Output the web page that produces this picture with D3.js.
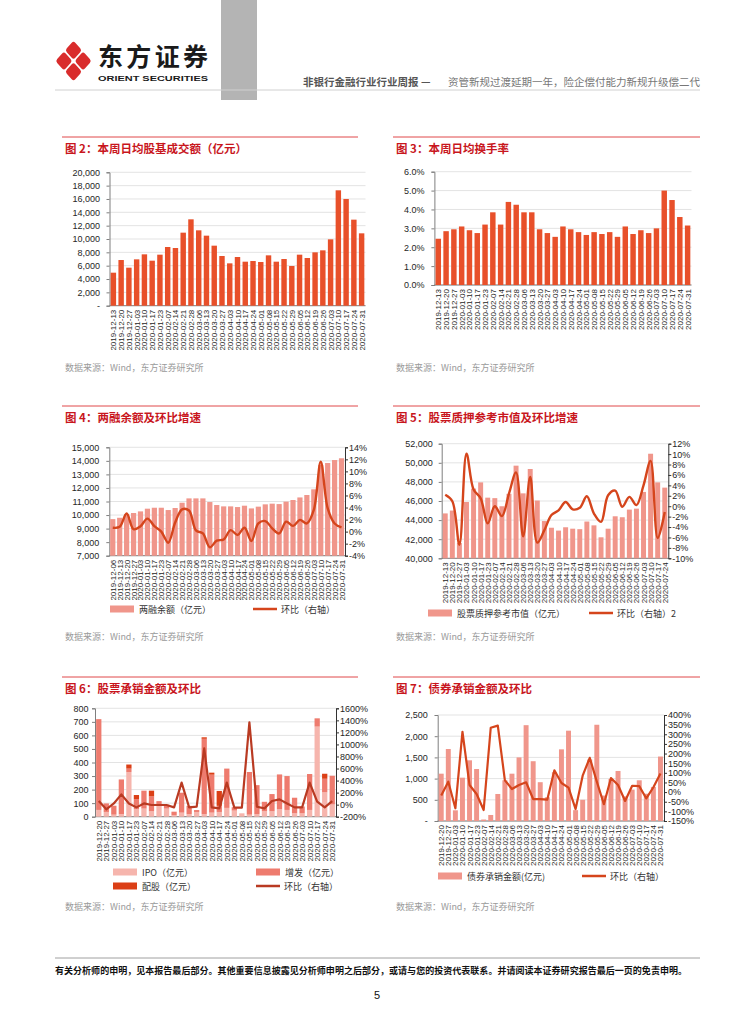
<!DOCTYPE html>
<html>
<head>
<meta charset="utf-8">
<script src="https://cdn.jsdelivr.net/npm/d3@7"></script>
<style>body{margin:0;background:#fff}</style>
</head>
<body>
<script>
// week labels
var weeks = ["2019-12-13","2019-12-20","2019-12-27","2020-01-03","2020-01-10","2020-01-17","2020-01-23","2020-02-07","2020-02-14","2020-02-21","2020-02-28","2020-03-06","2020-03-13","2020-03-20","2020-03-27","2020-04-03","2020-04-10","2020-04-17","2020-04-24","2020-05-01","2020-05-08","2020-05-15","2020-05-22","2020-05-29","2020-06-05","2020-06-12","2020-06-19","2020-06-26","2020-07-03","2020-07-10","2020-07-17","2020-07-24","2020-07-31"];
var dates2 = weeks;
var dates3 = weeks;
var dates4 = ["2019-12-06"].concat(weeks);
var dates5 = weeks.slice(0, 32);
var dates6 = weeks.slice(1);
var dates7 = weeks.slice(1);

// fig 2 daily turnover (亿元)
var turnover = [4950,6850,5700,6950,7700,6750,7650,8800,8650,10950,12950,11300,10500,9000,7450,6350,7300,6600,6700,6550,7550,6600,7000,5950,7650,7150,8000,8300,9950,17300,16000,12900,10850];
// fig 3 turnover rate (%)
var turnRate = [2.45,2.85,2.95,3.1,2.9,2.75,3.2,3.85,3.2,4.4,4.25,3.85,3.85,2.95,2.75,2.55,3.1,2.95,2.8,2.65,2.8,2.7,2.8,2.55,3.1,2.7,2.9,2.75,3.0,5.0,4.5,3.6,3.15];
// fig 4 margin balance and wow (%)
var margin = [9700,9800,10070,10150,10270,10470,10540,10540,10370,10520,10910,11230,11230,11230,10960,10740,10640,10640,10590,10690,10490,10620,10790,10840,10810,10990,11110,11300,11480,11900,13700,13840,14060,14190];
var marginChg = [0.65,0.8,3.0,0.4,0.9,2.15,0.9,0.0,-1.85,1.5,3.7,3.5,0.2,-0.3,-2.6,-1.5,-1.3,0.25,-0.55,0.65,-1.55,1.35,1.75,0.55,-0.3,1.65,0.95,1.95,1.35,3.6,11.6,3.9,1.35,0.7];
// fig 5 pledge market value and wow (%)
var pledge = [44700,45000,41600,45900,47300,47950,46350,46300,45450,46750,49700,46800,49350,46050,43900,43200,42900,43250,43100,43050,43850,43450,42200,43100,44400,44300,45100,45200,46950,50950,47950,47400];
var pledgeChg = [2.2,0.95,-7.4,10.1,3.2,1.5,-3.3,0.0,-1.9,2.4,6.5,-5.8,5.6,-7.0,-4.6,-1.7,-0.8,0.8,-0.6,-0.3,1.9,-1.4,-3.0,2.1,3.0,-0.1,1.8,0.2,4.0,8.7,-6.1,-1.1];
// fig 6 equity underwriting
var ipo = [50,35,15,20,330,55,60,40,80,60,10,30,20,35,20,30,35,65,45,25,15,20,40,40,55,50,25,25,50,665,180,90];
var seo = [670,63,66,255,25,75,132,110,35,28,27,147,60,14,555,280,45,290,25,0,315,213,70,127,257,250,115,50,265,61,100,212];
var rights = [0,0,0,0,30,30,0,42,0,0,0,0,0,0,11,15,110,0,0,0,0,0,0,0,0,0,0,0,0,0,37,0];
var equityChg = [60,-78,20,171,20,-45,20,-6,-6,-6,-45,365,-45,-34,935,-45,-62,365,-50,-50,1368,-34,-62,60,88,20,-45,-45,365,49,-45,60];
// fig 7 bond underwriting
var bonds = [1116,1698,252,1022,1431,1226,35,142,637,960,1116,1500,2260,1410,915,560,1150,1690,2130,256,500,1450,2270,600,990,1180,580,740,960,643,804,1520];
var bondChg = [-18,54,-84,313,37,-10,-93,334,345,61,16,37,51,-36,-36,-39,113,47,23,-88,85,178,54,-63,73,37,-46,33,31,-33,25,96];

var FONT = "'Liberation Sans','Noto Sans CJK SC',sans-serif";
var CJK = "'Noto Sans CJK SC','Liberation Sans',sans-serif";
var RED = "#e8502a", SALMON = "#f0968b", LINE = "#d5451c";

var svg = d3.select("body").append("svg").attr("width", 754).attr("height", 1024)
  .style("font-family", FONT);

//header
svg.append("rect").attr("x", 221).attr("y", 0).attr("width", 36).attr("height", 100).attr("fill", "#b4b4b4");
svg.append("line").attr("x1", 55).attr("x2", 700).attr("y1", 90).attr("y2", 90).attr("stroke", "#d0d0d0");

var logo = svg.append("g").attr("transform", "translate(73.5,61) scale(1,1.12)");
var pieces = [[0,-9.6],[-9.6,0],[9.6,0],[0,9.6]];
logo.selectAll("rect").data(pieces).enter().append("rect")
  .attr("x", -6).attr("y", -6).attr("width", 12).attr("height", 12).attr("rx", 2.5)
  .attr("transform", function(d){ return "translate(" + d[0] + "," + d[1] + ") rotate(45)"; })
  .attr("fill", "#d92c2c");
svg.append("text").attr("x", 98).attr("y", 66).attr("font-family", CJK).attr("font-weight", "bold")
  .attr("font-size", 25).attr("fill", "#1a1a1a").attr("textLength", 110).text("东方证券");
svg.append("text").attr("x", 98).attr("y", 81).attr("font-weight", "bold").attr("font-size", 8)
  .attr("fill", "#1a1a1a").attr("textLength", 110).attr("lengthAdjust", "spacingAndGlyphs").text("ORIENT SECURITIES");
svg.append("text").attr("x", 303).attr("y", 86).attr("font-family", CJK).attr("font-size", 10.5)
  .attr("fill", "#555").attr("font-weight", "bold").text("非银行金融行业行业周报 —");
svg.append("text").attr("x", 700).attr("y", 86).attr("font-family", CJK).attr("font-size", 10.5)
  .attr("fill", "#777").attr("text-anchor", "end").text("资管新规过渡延期一年，险企偿付能力新规升级偿二代");

//block frame: red line, title, source
function block(x0, x1, top, title, srcY) {
  svg.append("line").attr("x1", x0).attr("x2", x1).attr("y1", top).attr("y2", top)
    .attr("stroke", "#e0484a").attr("stroke-width", 1);
  svg.append("text").attr("x", x0 + 3).attr("y", top + 16).attr("font-family", CJK)
    .attr("font-size", 11.5).attr("font-weight", "bold").attr("fill", "#c8161d").text(title);
  svg.append("text").attr("x", x0 + 3).attr("y", srcY).attr("font-family", CJK)
    .attr("font-size", 9).attr("fill", "#9a9a9a").text("数据来源：Wind，东方证券研究所");
}

function styleAxis(sel) {
  sel.attr("font-family", FONT).attr("font-size", 9);
  sel.select(".domain").attr("stroke", "#7f7f7f");
  sel.selectAll(".tick line").attr("stroke", "#7f7f7f");
  sel.selectAll(".tick text").attr("fill", "#262626");
}

//plot area with grid, left axis, x labels
function plot(o) {
  var g = svg.append("g");
  var x = d3.scaleBand().domain(o.dates).range([o.left, o.right]).paddingInner(o.pad).paddingOuter(o.pad / 2);
  var y = d3.scaleLinear().domain(o.yDomain).range([o.bottom, o.top]);
  g.selectAll(".grid").data(o.yTicks).enter().append("line")
    .attr("x1", o.left).attr("x2", o.right)
    .attr("y1", function(d){ return y(d); }).attr("y2", function(d){ return y(d); })
    .attr("stroke", "#dcdcdc").attr("stroke-width", 0.8);
  var ax = g.append("g").attr("transform", "translate(" + o.left + ",0)")
    .call(d3.axisLeft(y).tickValues(o.yTicks).tickFormat(o.yFmt).tickSize(3).tickPadding(o.lpad));
  styleAxis(ax);
  g.append("line").attr("x1", o.left).attr("x2", o.right).attr("y1", o.bottom).attr("y2", o.bottom)
    .attr("stroke", "#7f7f7f");
  g.selectAll(".xl").data(o.dates).enter().append("text")
    .attr("transform", function(d){ return "translate(" + (x(d) + x.bandwidth() / 2 + 3) + "," + (o.bottom + 4) + ") rotate(-90)"; })
    .attr("text-anchor", "end").attr("font-size", 8).attr("fill", "#262626").text(function(d){ return d; });
  var y2 = null;
  if (o.y2Domain) {
    y2 = d3.scaleLinear().domain(o.y2Domain).range([o.bottom, o.top]);
    var ax2 = g.append("g").attr("transform", "translate(" + o.right + ",0)")
      .call(d3.axisRight(y2).tickValues(o.y2Ticks).tickFormat(function(d){ return d + "%"; }).tickSize(3).tickPadding(1));
    styleAxis(ax2);
    ax2.select(".domain").attr("stroke", "#333");
    ax2.selectAll(".tick line").attr("stroke", "#333");
  }
  return {g: g, x: x, y: y, y2: y2};
}

function bars(p, dates, vals, color, base) {
  p.g.selectAll(null).data(vals).enter().append("rect")
    .attr("x", function(d, i){ return p.x(dates[i]); })
    .attr("width", p.x.bandwidth())
    .attr("y", function(d){ return p.y(d); })
    .attr("height", function(d){ return p.y(base) - p.y(d); })
    .attr("fill", color);
}

function line(p, dates, vals, color, w, curve) {
  var gen = d3.line()
    .x(function(d, i){ return p.x(dates[i]) + p.x.bandwidth() / 2; })
    .y(function(d){ return p.y2(d); })
    .curve(curve);
  p.g.append("path").datum(vals).attr("d", gen).attr("fill", "none")
    .attr("stroke", color).attr("stroke-width", w).attr("stroke-linejoin", "round");
}

function legendRect(x, y, color, label) {
  svg.append("rect").attr("x", x).attr("y", y - 3.5).attr("width", 24).attr("height", 7).attr("fill", color);
  svg.append("text").attr("x", x + 29).attr("y", y + 3.5).attr("font-family", CJK).attr("font-size", 9)
    .attr("fill", "#333").text(label);
}
function legendLine(x, y, color, label) {
  svg.append("line").attr("x1", x).attr("x2", x + 24).attr("y1", y).attr("y2", y)
    .attr("stroke", color).attr("stroke-width", 2.5);
  svg.append("text").attr("x", x + 28).attr("y", y + 3.5).attr("font-family", CJK).attr("font-size", 9)
    .attr("fill", "#333").text(label);
}

var dashZero = function(d){ return d === 0 ? "-" : d3.format(",")(d); };

// fig 2
block(62, 358, 137, "图 2：本周日均股基成交额（亿元）", 371);
var p2 = plot({dates: dates2, left: 109.5, right: 365.5, top: 172.3, bottom: 305.7, pad: 0.3,
  yDomain: [0, 20000], yTicks: d3.range(0, 20001, 2000), yFmt: dashZero, lpad: 6.5});
bars(p2, dates2, turnover, RED, 0);

// fig 3
block(393, 700, 137, "图 3：本周日均换手率", 371);
var p3 = plot({dates: dates3, left: 434.4, right: 691.5, top: 171.7, bottom: 285, pad: 0.3,
  yDomain: [0, 6], yTicks: d3.range(0, 6.01, 1), yFmt: function(d){ return d.toFixed(1) + "%"; }, lpad: 7});
bars(p3, dates3, turnRate, RED, 0);

// fig 4
block(62, 358, 406, "图 4：两融余额及环比增速", 640);
var p4 = plot({dates: dates4, left: 109.3, right: 345, top: 447.3, bottom: 555.7, pad: 0.25,
  yDomain: [7000, 15000], yTicks: d3.range(7000, 15001, 1000), yFmt: d3.format(","), lpad: 7,
  y2Domain: [-4, 14], y2Ticks: d3.range(-4, 14.01, 2)});
bars(p4, dates4, margin, SALMON, 7000);
line(p4, dates4, marginChg, LINE, 2.4, d3.curveCatmullRom);
legendRect(110, 609, SALMON, "两融余额（亿元）");
legendLine(253, 609, LINE, "环比（右轴）");

// fig 5
block(393, 700, 406, "图 5：股票质押参考市值及环比增速", 640);
var p5 = plot({dates: dates5, left: 441.7, right: 668.3, top: 443.7, bottom: 558.3, pad: 0.3,
  yDomain: [40000, 52000], yTicks: d3.range(40000, 52001, 2000), yFmt: d3.format(","), lpad: 6,
  y2Domain: [-10, 12], y2Ticks: d3.range(-10, 12.01, 2)});
bars(p5, dates5, pledge, SALMON, 40000);
line(p5, dates5, pledgeChg, LINE, 2.4, d3.curveCatmullRom);
legendRect(428, 613, SALMON, "股票质押参考市值（亿元）");
legendLine(589, 613, LINE, "环比（右轴）2");

// fig 6
block(62, 358, 677, "图 6：股票承销金额及环比", 910);
var p6 = plot({dates: dates6, left: 95, right: 336, top: 708.3, bottom: 816.7, pad: 0.3,
  yDomain: [0, 800], yTicks: d3.range(0, 801, 100), yFmt: d3.format("d"), lpad: 3.5,
  y2Domain: [-200, 1600], y2Ticks: d3.range(-200, 1601, 200)});
var stack6 = d3.stack().keys(["ipo", "seo", "rights"])(dates6.map(function(d, i){
  return {date: d, ipo: ipo[i], seo: seo[i], rights: rights[i]};
}));
var c6 = {ipo: "#f6b5ad", seo: "#ee7b6e", rights: "#db3f16"};
stack6.forEach(function(layer){
  p6.g.selectAll(null).data(layer).enter().append("rect")
    .attr("x", function(d){ return p6.x(d.data.date); })
    .attr("width", p6.x.bandwidth())
    .attr("y", function(d){ return p6.y(d[1]); })
    .attr("height", function(d){ return p6.y(d[0]) - p6.y(d[1]); })
    .attr("fill", c6[layer.key]);
});
line(p6, dates6, equityChg, "#b93a22", 2.2, d3.curveLinear);
legendRect(113, 872, c6.ipo, "IPO（亿元）");
legendRect(256, 872, c6.seo, "增发（亿元）");
legendRect(113, 886, c6.rights, "配股（亿元）");
legendLine(256, 886, "#b93a22", "环比（右轴）");

// fig 7
block(393, 700, 677, "图 7：债券承销金额及环比", 910);
var p7 = plot({dates: dates7, left: 437.7, right: 664, top: 715, bottom: 821, pad: 0.3,
  yDomain: [0, 2500], yTicks: d3.range(0, 2501, 500), yFmt: dashZero, lpad: 7,
  y2Domain: [-150, 400], y2Ticks: d3.range(-150, 401, 50)});
bars(p7, dates7, bonds, SALMON, 0);
line(p7, dates7, bondChg, LINE, 2.2, d3.curveLinear);
legendRect(438, 876, SALMON, "债券承销金额(亿元)");
legendLine(582, 876, LINE, "环比（右轴）");

//footer
svg.append("line").attr("x1", 55).attr("x2", 700).attr("y1", 958).attr("y2", 958).attr("stroke", "#a0a0a0");
svg.append("text").attr("x", 55).attr("y", 974).attr("font-family", CJK).attr("font-size", 9)
  .attr("font-weight", "bold").attr("fill", "#111").attr("textLength", 632)
  .text("有关分析师的申明，见本报告最后部分。其他重要信息披露见分析师申明之后部分，或请与您的投资代表联系。并请阅读本证券研究报告最后一页的免责申明。");
svg.append("text").attr("x", 377).attr("y", 999).attr("text-anchor", "middle").attr("font-size", 11)
  .attr("fill", "#111").text("5");
</script>
</body>
</html>
